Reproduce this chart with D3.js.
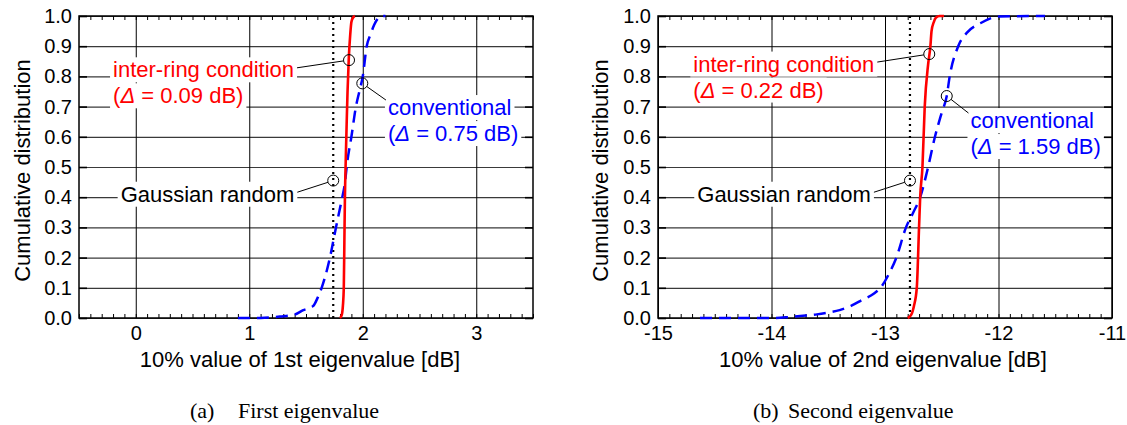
<!DOCTYPE html>
<html>
<head>
<meta charset="utf-8">
<script src="https://cdn.jsdelivr.net/npm/d3@7"></script>
<style>
  body { margin: 0; background: #fff; }
  text { font-family: Arial, "Liberation Sans", sans-serif; }
</style>
</head>
<body>
<svg id="chart" width="1127" height="425"></svg>
<script>
// 縦軸（累積分布）
const cdfTicks = [0, 0.1, 0.2, 0.3, 0.4, 0.5, 0.6, 0.7, 0.8, 0.9, 1.0];

// (a) 第1固有値
const xTicks1 = [0, 1, 2, 3];
const interRing1X = [1.80, 1.815, 1.825, 1.833, 1.838, 1.843, 1.85, 1.858, 1.866, 1.877, 1.89, 1.90, 1.915, 1.93];
const interRing1Y = [0.0, 0.01, 0.04, 0.10, 0.25, 0.40, 0.52, 0.64, 0.75, 0.86, 0.94, 0.98, 0.995, 1.0];
const conventional1X = [0.9, 1.1, 1.27, 1.39, 1.476, 1.564, 1.60, 1.638, 1.711, 1.764, 1.814, 1.84, 1.865, 1.90, 1.94, 1.97, 2.0, 2.035, 2.07, 2.10, 2.13, 2.16, 2.2];
const conventional1Y = [0.0, 0.0, 0.005, 0.01, 0.026, 0.04, 0.065, 0.10, 0.20, 0.30, 0.39, 0.44, 0.52, 0.60, 0.70, 0.75, 0.80, 0.90, 0.94, 0.97, 0.99, 1.0, 1.0];
const gaussian1 = 1.74;
const delta1 = { interRing: '0.09', conventional: '0.75' };

// (b) 第2固有値
const xTicks2 = [-15, -14, -13, -12, -11];
const interRing2X = [-12.80, -12.77, -12.745, -12.72, -12.70, -12.69, -12.67, -12.65, -12.62, -12.60, -12.59, -12.57, -12.55, -12.52, -12.48];
const interRing2Y = [0.0, 0.01, 0.04, 0.10, 0.30, 0.40, 0.50, 0.70, 0.84, 0.90, 0.95, 0.98, 0.995, 1.0, 1.0];
const conventional2X = [-14.63, -14.0, -13.85, -13.7, -13.6, -13.5, -13.4, -13.3, -13.2, -13.1, -13.04, -12.96, -12.90, -12.815, -12.75, -12.69, -12.62, -12.56, -12.50, -12.456, -12.43, -12.355, -12.28, -12.16, -12.0, -11.59];
const conventional2Y = [0.0, 0.0, 0.003, 0.008, 0.012, 0.018, 0.026, 0.04, 0.06, 0.08, 0.10, 0.15, 0.20, 0.30, 0.35, 0.40, 0.50, 0.60, 0.68, 0.735, 0.80, 0.90, 0.944, 0.976, 0.998, 1.0];
const gaussian2 = -12.78;
const delta2 = { interRing: '0.22', conventional: '1.59' };

const RED = '#ff0000';
const BLUE = '#0000ff';

const plotTop = 16;
const plotW = 454;
const plotH = 302;
const lineGap = 26;

const svg = d3.select('#chart');

const zip = (xs, ys) => xs.map((v, i) => [v, ys[i]]);

const panels = [
  {
    left: 79,
    domain: [-0.5, 3.5],
    xTicks: xTicks1,
    interRing: zip(interRing1X, interRing1Y),
    conventional: zip(conventional1X, conventional1Y),
    gaussian: gaussian1,
    xTitle: '10% value of 1st eigenvalue [dB]',
    xTitleX: 300,
    yTitleX: 22.5,
    caption: ['(a)', 'First eigenvalue'],
    captionX: [190, 238],
    notes: [
      { title: 'inter-ring condition', delta: delta1.interRing, color: RED, px: 1.879, py: 0.854, tx: -0.2, ty: 0.797, side: 'left' },
      { title: 'conventional', delta: delta1.conventional, color: BLUE, px: 1.996, py: 0.777, tx: 2.222, ty: 0.672, side: 'right' },
      { title: 'Gaussian random', color: '#000', px: 1.74, py: 0.455, tx: -0.133, ty: 0.385, side: 'left' }
    ]
  },
  {
    left: 658,
    domain: [-15, -11],
    xTicks: xTicks2,
    interRing: zip(interRing2X, interRing2Y),
    conventional: zip(conventional2X, conventional2Y),
    gaussian: gaussian2,
    xTitle: '10% value of 2nd eigenvalue [dB]',
    xTitleX: 883,
    yTitleX: 600,
    caption: ['(b)', 'Second eigenvalue'],
    captionX: [753, 788],
    notes: [
      { title: 'inter-ring condition', delta: delta2.interRing, color: RED, px: -12.61, py: 0.874, tx: -14.689, ty: 0.816, side: 'left' },
      { title: 'conventional', delta: delta2.conventional, color: BLUE, px: -12.456, py: 0.735, tx: -12.247, ty: 0.629, side: 'right' },
      { title: 'Gaussian random', color: '#000', px: -12.78, py: 0.455, tx: -14.654, ty: 0.385, side: 'left' }
    ]
  }
];

const styleAxisText = (sel, size) => sel
  .attr('font-family', 'Arial, "Liberation Sans", sans-serif')
  .attr('font-size', size);

// 注記（白抜きの背景つき）
const drawNote = (g, x, y, note) => {
  const layer = g.append('g');
  const bx = x(note.tx);
  const by = y(note.ty);
  const texts = [];

  const t1 = layer.append('text')
    .attr('x', bx).attr('y', by)
    .attr('fill', note.color)
    .style('font-size', '22px')
    .text(note.title);
  texts.push(t1);

  if (note.delta) {
    const t2 = layer.append('text')
      .attr('x', bx).attr('y', by + lineGap)
      .attr('fill', note.color)
      .style('font-size', '22px');
    t2.append('tspan').text('(');
    t2.append('tspan').attr('font-style', 'italic').text('Δ');
    t2.append('tspan').text(` = ${note.delta} dB)`);
    texts.push(t2);
  }

  texts.forEach(t => {
    const b = t.node().getBBox();
    layer.insert('rect', 'text')
      .attr('x', b.x - 3).attr('y', b.y)
      .attr('width', b.width + 6).attr('height', b.height)
      .attr('fill', '#fff');
  });

  // 引き出し線と丸印
  const cx = x(note.px);
  const cy = y(note.py);
  const r = 5.5;
  let ex, ey;
  if (note.side === 'left') {
    const b = t1.node().getBBox();
    ex = b.x + b.width + 3;
    ey = by - 9.5;
  } else {
    ex = bx - 2;
    ey = by - 15;
  }
  const len = Math.hypot(ex - cx, ey - cy);
  g.append('line')
    .attr('x1', cx + (ex - cx) / len * r).attr('y1', cy + (ey - cy) / len * r)
    .attr('x2', ex).attr('y2', ey)
    .attr('stroke', '#000').attr('stroke-width', 1);
  return { cx, cy, r };
};

const drawPanel = p => {
  const g = svg.append('g').attr('transform', `translate(${p.left},${plotTop})`);
  const x = d3.scaleLinear().domain(p.domain).range([0, plotW]);
  const y = d3.scaleLinear().domain([0, 1]).range([plotH, 0]);

  // 横グリッド
  g.append('g')
    .call(d3.axisLeft(y).tickValues(cdfTicks).tickSize(-plotW).tickFormat(''))
    .call(a => a.select('.domain').remove())
    .call(a => a.selectAll('line').attr('stroke', '#3a3a3a').attr('stroke-width', 1.2));

  // 縦グリッド
  g.append('g')
    .attr('transform', `translate(0,${plotH})`)
    .call(d3.axisBottom(x).tickValues(p.xTicks).tickSize(plotH).tickFormat(''))
    .call(a => a.select('.domain').remove())
    .call(a => a.selectAll('line').attr('y2', -plotH).attr('stroke', '#000').attr('stroke-width', 1));

  // 注記は曲線より下に置く
  const marks = p.notes.map(n => drawNote(g, x, y, n));

  // 左右の主目盛（内向き）
  g.append('g')
    .call(d3.axisRight(y).tickValues(cdfTicks).tickSize(8).tickFormat(''))
    .call(a => a.select('.domain').remove())
    .call(a => a.selectAll('line').attr('stroke', '#000').attr('stroke-width', 1.6));
  g.append('g')
    .attr('transform', `translate(${plotW},0)`)
    .call(d3.axisLeft(y).tickValues(cdfTicks).tickSize(8).tickFormat(''))
    .call(a => a.select('.domain').remove())
    .call(a => a.selectAll('line').attr('stroke', '#000').attr('stroke-width', 1.6));

  // 上下の副目盛（0.1 刻み）
  const minor = x.ticks(40);
  g.append('g')
    .attr('transform', `translate(0,${plotH})`)
    .call(d3.axisTop(x).tickValues(minor).tickSize(4).tickFormat(''))
    .call(a => a.select('.domain').remove())
    .call(a => a.selectAll('line').attr('stroke', '#000'));
  g.append('g')
    .call(d3.axisBottom(x).tickValues(minor).tickSize(4).tickFormat(''))
    .call(a => a.select('.domain').remove())
    .call(a => a.selectAll('line').attr('stroke', '#000'));

  // 目盛ラベル
  g.append('g')
    .call(d3.axisLeft(y).tickValues(cdfTicks).tickSize(0).tickPadding(7).tickFormat(d3.format('.1f')))
    .call(a => a.select('.domain').remove())
    .call(a => styleAxisText(a, 20))
    .call(a => a.selectAll('text').attr('fill', '#000'));
  g.append('g')
    .attr('transform', `translate(0,${plotH})`)
    .call(d3.axisBottom(x).tickValues(p.xTicks).tickSize(0).tickPadding(8).tickFormat(d => String(d)))
    .call(a => a.select('.domain').remove())
    .call(a => styleAxisText(a, 20))
    .call(a => a.selectAll('text').attr('fill', '#000'));

  // 枠
  g.append('rect')
    .attr('width', plotW).attr('height', plotH)
    .attr('fill', 'none').attr('stroke', '#000').attr('stroke-width', 1.5);

  // 曲線
  const clipId = `clip-${p.left}`;
  g.append('clipPath').attr('id', clipId)
    .append('rect').attr('x', 0).attr('y', -2).attr('width', plotW).attr('height', plotH + 4);
  const curves = g.append('g').attr('clip-path', `url(#${clipId})`);

  curves.append('line')
    .attr('x1', x(p.gaussian)).attr('x2', x(p.gaussian))
    .attr('y1', y(0)).attr('y2', y(1))
    .attr('stroke', '#000').attr('stroke-width', 2.2)
    .attr('stroke-dasharray', '2,4');

  const line = d3.line()
    .x(d => x(d[0]))
    .y(d => y(d[1]))
    .curve(d3.curveMonotoneX);

  curves.append('path')
    .datum(p.conventional)
    .attr('d', line)
    .attr('fill', 'none').attr('stroke', BLUE).attr('stroke-width', 2.5)
    .attr('stroke-dasharray', '12,7');

  curves.append('path')
    .datum(p.interRing)
    .attr('d', line)
    .attr('fill', 'none').attr('stroke', RED).attr('stroke-width', 2.6);

  marks.forEach(m => {
    g.append('circle')
      .attr('cx', m.cx).attr('cy', m.cy).attr('r', m.r)
      .attr('fill', 'none').attr('stroke', '#000').attr('stroke-width', 1);
  });

  // 軸タイトル
  svg.append('text')
    .attr('x', p.xTitleX).attr('y', plotTop + plotH + 49)
    .attr('text-anchor', 'middle')
    .style('font-size', '22px')
    .text(p.xTitle);

  svg.append('text')
    .attr('transform', `translate(${p.yTitleX},170.5) rotate(-90)`)
    .attr('text-anchor', 'middle')
    .attr('dominant-baseline', 'central')
    .style('font-size', '22px')
    .text('Cumulative distribution');

  // キャプション
  p.caption.forEach((c, i) => {
    svg.append('text')
      .attr('x', p.captionX[i]).attr('y', 418)
      .style('font-family', '"Liberation Serif", "Times New Roman", serif')
      .style('font-size', '22px')
      .text(c);
  });
};

panels.forEach(drawPanel);
</script>
</body>
</html>
